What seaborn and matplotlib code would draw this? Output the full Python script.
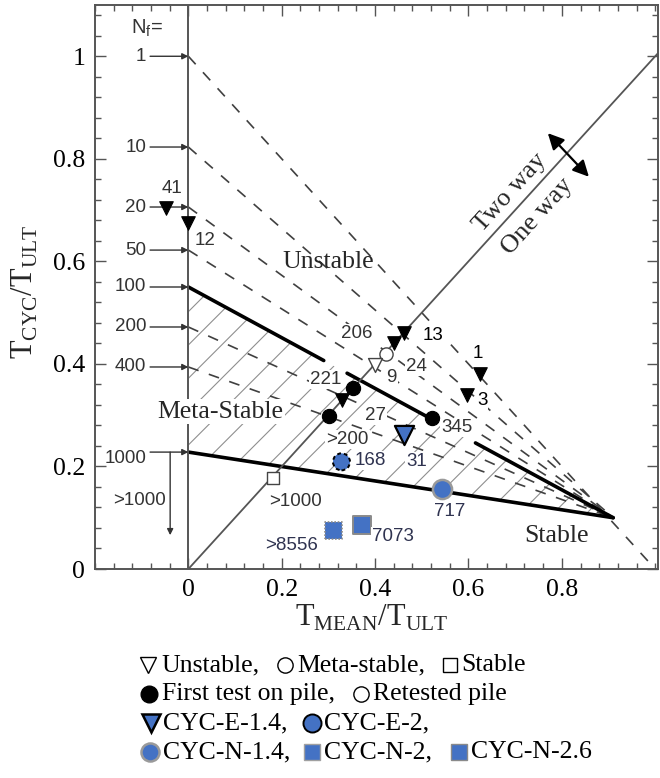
import matplotlib
matplotlib.use("Agg")
import matplotlib.pyplot as plt
import seaborn as sns
import numpy as np
import pandas as pd
from matplotlib.ticker import MultipleLocator, FixedLocator, FixedFormatter
from matplotlib.lines import Line2D

# ---------------- data ----------------
nf_labels = ["1", "10", "20", "50", "100", "200", "400", "1000"]
nf_intercepts = [1.0, 0.823, 0.706, 0.622, 0.550, 0.472, 0.394, 0.228]
focus_x = 0.91
focus_y = 0.10
nf1_end = (1.0, 0.0)
nf100_pieces = [(0.0, 0.29), (0.34, 0.522), (0.615, 0.91)]

# first test on pile, unstable (filled triangles)
ftu_x = [-0.047, 0.000, 0.4625, 0.441, 0.330, 0.625, 0.597]
ftu_y = [0.704, 0.674, 0.460, 0.441, 0.329, 0.380, 0.339]
ftu_n = ["41", "12", "13", "206", "27", "1", "3"]
# first test on pile, meta-stable (filled circles)
ftm_x = [0.353, 0.302, 0.522]
ftm_y = [0.353, 0.298, 0.294]
ftm_n = ["221", ">200", "345"]
# retested piles
rtm_x, rtm_y, rtm_n = [0.424], [0.419], ["24"]
rtu_x, rtu_y, rtu_n = [0.400], [0.398], ["9"]
# stable
stb_x, stb_y, stb_n = [0.182], [0.177], [">1000"]
# CYC tests
e14_x, e14_y, e14_n = [0.4625], [0.261], ["31"]
e2_x, e2_y, e2_n = [0.328], [0.209], ["168"]
n14_x, n14_y, n14_n = [0.544], [0.156], ["717"]
n2_x, n2_y, n2_n = [0.373], [0.086], ["7073"]
n26_x, n26_y, n26_n = [0.310], [0.076], [">8556"]

x_ticks = [0, 0.2, 0.4, 0.6, 0.8]
x_ticklabels = ["0", "0.2", "0.4", "0.6", "0.8"]
y_ticks = [0, 0.2, 0.4, 0.6, 0.8, 1.0]
y_ticklabels = ["0", "0.2", "0.4", "0.6", "0.8", "1"]

# ---------------- style ----------------
sns.set_theme(style="ticks")
plt.rcParams["font.family"] = ["Liberation Serif", "DejaVu Serif"]
plt.rcParams["mathtext.fontset"] = "custom"
plt.rcParams["mathtext.rm"] = "Liberation Serif"
plt.rcParams["mathtext.sf"] = "Liberation Sans"
plt.rcParams["hatch.linewidth"] = 0.8

SANS = ["Liberation Sans", "DejaVu Sans"]
SERIF = ["Liberation Serif", "DejaVu Serif"]
FRAME = "#555555"
BLUE = "#4472C4"
NUMC = "#333333"
NAVY = "#2f3350"

W, H = 660, 778
fig = plt.figure(figsize=(W / 100, H / 100), dpi=100)
ax = fig.add_axes([95 / W, 1 - 569 / H, 563 / W, 564 / H])
ax.set_xlim(-0.2, 1.006)
ax.set_ylim(0, 1.1)

# hatched meta-stable zone
ax.fill([0, focus_x, 0], [nf_intercepts[4], focus_y, nf_intercepts[7]],
        facecolor="none", edgecolor="#8f8f8f", hatch="/", linewidth=0, zorder=1)

# Nf contour lines
for lab, y0 in zip(nf_labels, nf_intercepts):
    if lab == "1":
        xs, ys = [0, nf1_end[0]], [y0, nf1_end[1]]
    else:
        xs, ys = [0, focus_x], [y0, focus_y]
    if lab == "100":
        slope = (focus_y - y0) / focus_x
        for a, b in nf100_pieces:
            sns.lineplot(x=[a, b], y=[y0 + slope * a, y0 + slope * b], ax=ax,
                         color="black", lw=2.6, sort=False, estimator=None, zorder=3)
    elif lab == "1000":
        sns.lineplot(x=xs, y=ys, ax=ax, color="black", lw=2.6, sort=False,
                     estimator=None, zorder=3)
    else:
        sns.lineplot(x=xs, y=ys, ax=ax, color="#404040", lw=1.2, sort=False,
                     estimator=None, linestyle=(0, (6.5, 6.5)), zorder=2)

# one-way / two-way boundary and vertical axis at zero
sns.lineplot(x=[0, 1.1], y=[0, 1.1], ax=ax, color="#555555", lw=1.3, sort=False,
             estimator=None, zorder=3)
ax.axvline(0, color=FRAME, lw=1.4, zorder=4)

# Nf arrows on the left
for lab, y0 in zip(nf_labels, nf_intercepts):
    ax.annotate("", xy=(0, y0), xytext=(-0.082, y0),
                arrowprops=dict(arrowstyle="-|>", color="#333333", lw=1.0,
                                mutation_scale=9, shrinkA=0, shrinkB=0), zorder=4)
    dy = -0.012 if lab == "1000" else 0
    ax.text(-0.09, y0 + dy, lab, ha="right", va="center", fontsize=13.5,
            family=SANS, color="#333333")
ax.annotate("", xy=(-0.039, 0.066), xytext=(-0.039, nf_intercepts[7]),
            arrowprops=dict(arrowstyle="-|>", color="#333333", lw=1.0,
                            mutation_scale=9, shrinkA=0, shrinkB=0), zorder=4)
ax.text(-0.105, 0.133, ">1000", ha="center", va="center", fontsize=13.5,
        family=SANS, color="#333333")
ax.text(-0.088, 1.055, r"$\mathsf{N}_{\mathsf{f}}$=", ha="center", va="center",
        fontsize=14.5, family=SANS, color="#333333")

# ---------------- markers ----------------
def pts(x, y, **kw):
    sns.scatterplot(x=x, y=y, ax=ax, zorder=6, legend=False, **kw)

pts(ftu_x, ftu_y, marker="v", s=95, color="black", edgecolor="black", linewidth=0.8)
pts(ftm_x, ftm_y, marker="o", s=105, color="black", edgecolor="black", linewidth=0.8)
pts(rtm_x, rtm_y, marker="o", s=90, color="#444444", facecolor="white",
    edgecolor="#444444", linewidth=1.0)
pts(rtu_x, rtu_y, marker="v", s=100, color="#444444", facecolor="white",
    edgecolor="#444444", linewidth=1.0)
pts(stb_x, stb_y, marker="s", s=70, color="#444444", facecolor="white",
    edgecolor="#444444", linewidth=1.0)
pts(e14_x, e14_y, marker="v", s=190, color=BLUE, edgecolor="black", linewidth=1.6)
pts(e2_x, e2_y, marker="o", s=150, color=BLUE, edgecolor="black", linewidth=1.4,
    linestyle=(0, (2, 1.5)))
pts(n14_x, n14_y, marker="o", s=190, color=BLUE, edgecolor="#9a9a9a", linewidth=1.8)
pts(n2_x, n2_y, marker="s", s=150, color=BLUE, edgecolor="#8a8a8a", linewidth=1.4)
pts(n26_x, n26_y, marker="s", s=150, color=BLUE, edgecolor="#8a8a8a", linewidth=1.2,
    linestyle=(0, (1, 1)))

# ---------------- number labels ----------------
offsets = {
    "41": (4, 14), "12": (12, -12), "13": (21, -2), "206": (-27, 7),
    "27": (24, -11), "1": (-2, 15), "3": (11, -4),
    "221": (-20, 6), ">200": (13, -17), "345": (18, -7),
    "24": (22, -9), "9": (12, -9), ">1000": (16, -17),
    "31": (9, -19), "168": (21, 1), "717": (5, -16), "7073": (22, -8),
    ">8556": (-30, -11),
}
black_lbls = {"1", "3", "13"}
navy_lbls = {"31", "168", "717", "7073", ">8556"}
groups = [(ftu_x, ftu_y, ftu_n), (ftm_x, ftm_y, ftm_n), (rtm_x, rtm_y, rtm_n),
          (rtu_x, rtu_y, rtu_n), (stb_x, stb_y, stb_n), (e14_x, e14_y, e14_n),
          (e2_x, e2_y, e2_n), (n14_x, n14_y, n14_n), (n2_x, n2_y, n2_n),
          (n26_x, n26_y, n26_n)]
for gx, gy, gn in groups:
    for x, y, n in zip(gx, gy, gn):
        col = "black" if n in black_lbls else (NAVY if n in navy_lbls else NUMC)
        ax.annotate(n, (x, y), xytext=offsets[n], textcoords="offset points",
                    ha="center", va="center", fontsize=13.5, family=SANS, color=col,
                    zorder=7,
                    bbox=dict(boxstyle="square,pad=0.05", fc="white", ec="none"))

# ---------------- region texts ----------------
ax.text(0.30, 0.598, "Unstable", ha="center", va="center", fontsize=18.5,
        family=SERIF, zorder=7)
ax.text(0.069, 0.307, "Meta-Stable", ha="center", va="center", fontsize=18.5,
        family=SERIF, zorder=5,
        bbox=dict(boxstyle="square,pad=0.05", fc="white", ec="none"))
ax.text(0.788, 0.064, "Stable", ha="center", va="center", fontsize=18.5,
        family=SERIF, zorder=7)
ax.text(0.69, 0.734, "Two way", ha="center", va="center", fontsize=19,
        family=SERIF, rotation=48, rotation_mode="anchor", zorder=7)
ax.text(0.748, 0.687, "One way", ha="center", va="center", fontsize=19,
        family=SERIF, rotation=48, rotation_mode="anchor", zorder=7)
ax.annotate("", xy=(0.77, 0.850), xytext=(0.858, 0.765),
            arrowprops=dict(arrowstyle="<|-|>", color="black", lw=1.6,
                            mutation_scale=24, shrinkA=0, shrinkB=0), zorder=7)

# ---------------- axes styling ----------------
for sp in ax.spines.values():
    sp.set_visible(True)
    sp.set_color(FRAME)
    sp.set_linewidth(1.4)
ax.xaxis.set_major_locator(FixedLocator(x_ticks))
ax.xaxis.set_major_formatter(FixedFormatter(x_ticklabels))
ax.yaxis.set_major_locator(FixedLocator(y_ticks))
ax.yaxis.set_major_formatter(FixedFormatter(y_ticklabels))
ax.xaxis.set_minor_locator(MultipleLocator(0.04))
ax.yaxis.set_minor_locator(MultipleLocator(0.04))
ax.tick_params(which="both", direction="in", top=True, right=True, color=FRAME,
               width=1.0, labelsize=18.5, labelcolor="black")
ax.tick_params(which="major", length=8, pad=7)
ax.tick_params(which="minor", length=4.5)
for t in ax.get_xticklabels() + ax.get_yticklabels():
    t.set_family(SERIF)

ax.set_xlabel(r"$\mathrm{T}_{\mathrm{MEAN}}/\mathrm{T}_{\mathrm{ULT}}$", fontsize=22)
ax.set_ylabel(r"$\mathrm{T}_{\mathrm{CYC}}/\mathrm{T}_{\mathrm{ULT}}$", fontsize=22)
ax.xaxis.set_label_coords((372 - 95) / 563, (569 - 603) / 564)
ax.yaxis.set_label_coords((40 - 95) / 563, (569 - 292) / 564)

# ---------------- legend block under the chart ----------------
def fx(px):
    return px / W

def fy(py):
    return 1 - py / H

def lmark(px, py, **kw):
    fig.add_artist(Line2D([fx(px)], [fy(py)], transform=fig.transFigure,
                          linestyle="none", **kw))

def ltext(px, py, s):
    fig.text(fx(px), fy(py), s, ha="left", va="center", fontsize=18.5,
             family=SERIF, color="black")

r1, r2, r3, r4 = 665, 694, 723, 752
lmark(148, r1, marker="v", ms=11, mfc="white", mec="black", mew=1.0)
ltext(161, r1, "Unstable,")
lmark(285, r1, marker="o", ms=11, mfc="white", mec="black", mew=1.0)
ltext(297, r1, "Meta-stable,")
lmark(450, r1, marker="s", ms=10, mfc="white", mec="black", mew=1.0)
ltext(461, r1, "Stable")

lmark(149, r2, marker="o", ms=12, mfc="black", mec="black")
ltext(162, r2, "First test on pile,")
lmark(361, r2, marker="o", ms=11, mfc="white", mec="black", mew=1.0)
ltext(373, r2, "Retested pile")

lmark(151, r3, marker="v", ms=13, mfc=BLUE, mec="black", mew=1.8)
ltext(163, r3, "CYC-E-1.4,")
lmark(312, r3, marker="o", ms=13, mfc=BLUE, mec="black", mew=1.4, dashes=(2, 1.5))
ltext(324, r3, "CYC-E-2,")

lmark(150, r4, marker="o", ms=13, mfc=BLUE, mec="#9a9a9a", mew=1.8)
ltext(163, r4, "CYC-N-1.4,")
lmark(312, r4, marker="s", ms=11, mfc=BLUE, mec="#a0a0a0", mew=1.0)
ltext(324, r4, "CYC-N-2,")
lmark(459, r4, marker="s", ms=11, mfc=BLUE, mec="#8a8a8a", mew=1.0)
ltext(471, r4, "CYC-N-2.6")

fig.savefig("out.png", dpi=100)
